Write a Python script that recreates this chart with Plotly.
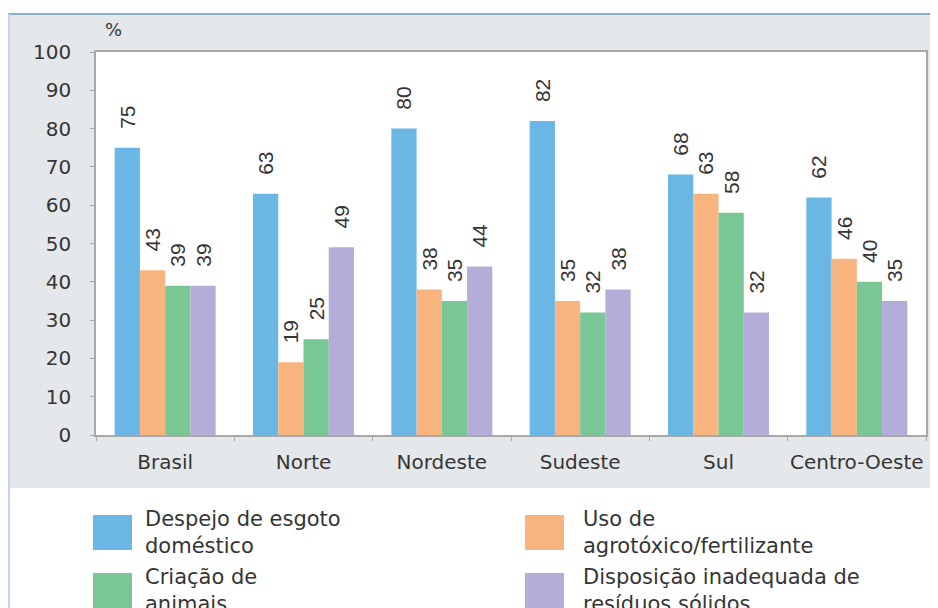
import plotly.graph_objects as go

# ── data ────────────────────────────────────────────────
regions    = ["Brasil", "Norte", "Nordeste", "Sudeste", "Sul", "Centro-Oeste"]
esgoto     = [75, 63, 80, 82, 68, 62]
agrotoxico = [43, 19, 38, 35, 63, 46]
criacao    = [39, 25, 35, 32, 58, 40]
residuos   = [39, 49, 44, 38, 32, 35]

series_names = [
    "Despejo de esgoto<br>doméstico",
    "Uso de<br>agrotóxico/fertilizante",
    "Criação de<br>animais",
    "Disposição inadequada de<br>resíduos sólidos",
]
y_ticks = list(range(0, 101, 10))

COLORS = ["#6ab7e5", "#f8b47e", "#79c794", "#b4acd9"]
TEXT   = "#353535"
PANEL  = "#e5e8eb"
FONT   = "DejaVu Sans"

# page body adds an 8px margin, so the figure is drawn 8px up/left
OFF = 8
W, H = 938, 608
# plot area on screen: left 96, right 926, top 52, bottom 435
L, T = 96 - OFF, 52 - OFF
R, B = W - (926 - OFF), H - (435 - OFF)
PW, PH = W - L - R, H - T - B


def px(x):
    """screen x pixel -> paper coordinate"""
    return (x - OFF - L) / PW


def py(y):
    """screen y pixel -> paper coordinate"""
    return (H - B - (y - OFF)) / PH


fig = go.Figure()

for name, vals, color in zip(series_names, [esgoto, agrotoxico, criacao, residuos], COLORS):
    fig.add_trace(go.Bar(
        x=regions, y=vals, name=name,
        marker=dict(color=color, line_width=0),
        text=vals,
        texttemplate="\u00a0\u00a0\u2009%{text}",
        textposition="outside",
        textangle=-90,
        constraintext="none",
        cliponaxis=False,
        textfont=dict(family="Liberation Sans, Arial", size=21, color=TEXT),
        showlegend=False,
    ))

shapes = [
    # white areas outside the grey panel
    dict(type="rect", xref="paper", yref="paper", x0=px(-10), x1=px(W + 10), y0=py(488), y1=py(H + 10),
         fillcolor="white", line_width=0, layer="below"),
    dict(type="rect", xref="paper", yref="paper", x0=px(-10), x1=px(W + 10), y0=py(14), y1=py(-10),
         fillcolor="white", line_width=0, layer="below"),
    dict(type="rect", xref="paper", yref="paper", x0=px(-10), x1=px(10), y0=py(H + 10), y1=py(-10),
         fillcolor="white", line_width=0, layer="below"),
    # blue frame lines
    dict(type="line", xref="paper", yref="paper", x0=px(8), x1=px(W + 10), y0=py(14), y1=py(14),
         line=dict(color="#8eaee0", width=2)),
    dict(type="line", xref="paper", yref="paper", x0=px(9), x1=px(9), y0=py(14), y1=py(H + 10),
         line=dict(color="#c4d4ef", width=2)),
]

annotations = [
    dict(text="%", xref="paper", yref="paper", x=px(103), y=py(30),
         xanchor="left", yanchor="middle", showarrow=False,
         font=dict(family=FONT, size=18, color=TEXT)),
]

# custom two-column legend: (swatch x, text x, top y)
legend_pos = [(93, 143, 515), (525, 581, 515), (93, 143, 573), (525, 581, 573)]
for name, color, (sx, tx, ly) in zip(series_names, COLORS, legend_pos):
    shapes.append(dict(type="rect", xref="paper", yref="paper",
                       x0=px(sx), x1=px(sx + 39), y0=py(ly), y1=py(ly + 35),
                       fillcolor=color, line_width=0))
    annotations.append(dict(text=name, xref="paper", yref="paper",
                            x=px(tx), y=py(ly + 17.5),
                            xanchor="left", yanchor="middle", align="left",
                            showarrow=False,
                            font=dict(family=FONT, size=21, color=TEXT)))

fig.update_layout(
    width=W, height=H,
    margin=dict(l=L, r=R, t=T, b=B, pad=0, autoexpand=False),
    paper_bgcolor=PANEL,
    plot_bgcolor="white",
    barmode="group",
    bargap=0.27,
    bargroupgap=0,
    font=dict(family=FONT, color=TEXT),
    shapes=shapes,
    annotations=annotations,
    xaxis=dict(
        showline=True, linecolor="#a8a8a8", linewidth=1.5, mirror=True,
        ticks="outside", ticklen=4, tickcolor="#a8a8a8", tickson="boundaries",
        tickfont=dict(family=FONT, size=20, color=TEXT),
        tickangle=0, automargin=False,
        ticklabelstandoff=8,
        showgrid=False,
    ),
    yaxis=dict(
        range=[0, 100], tickvals=y_ticks,
        showline=True, linecolor="#a8a8a8", linewidth=1.5, mirror=True,
        ticks="outside", ticklen=4, tickcolor="#a8a8a8",
        tickfont=dict(family=FONT, size=20, color=TEXT),
        automargin=False,
        ticklabelstandoff=15,
        showgrid=False, zeroline=False,
    ),
)

fig.write_html("out.html")
